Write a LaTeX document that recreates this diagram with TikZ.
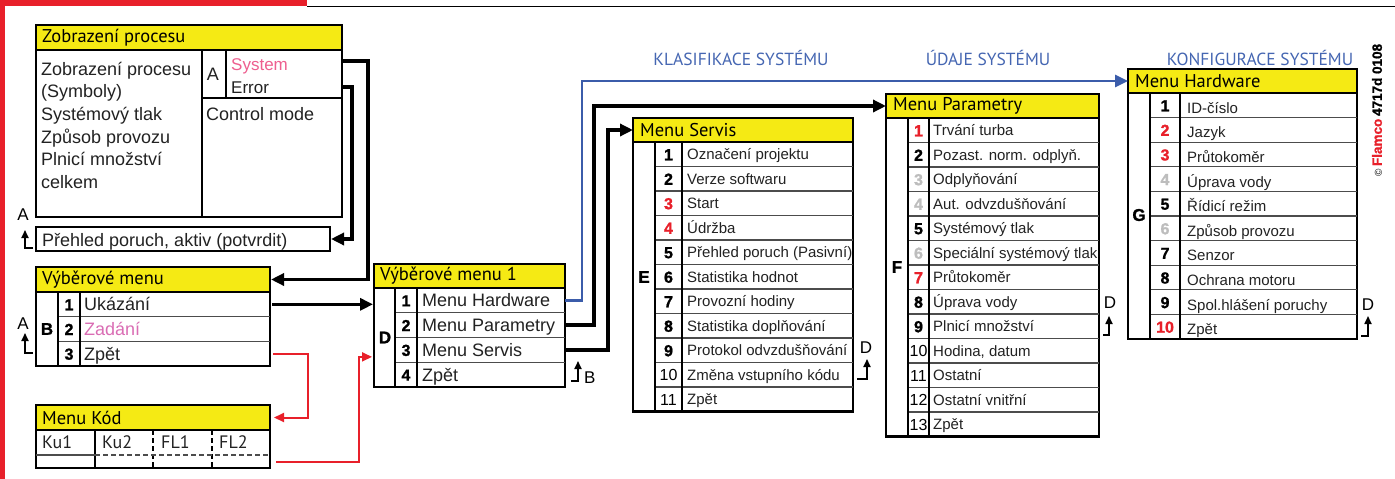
\documentclass[tikz,border=0pt]{standalone}
\usepackage{fontspec}
\setmainfont{Liberation Sans}
\newfontfamily\hdrfont{PT Sans}
\newfontfamily\heavyfont{Liberation Sans Bold}[FakeBold=1.2]
\usetikzlibrary{arrows.meta}
\definecolor{hy}{HTML}{F5EA14}
\definecolor{fred}{HTML}{E8202A}
\definecolor{fpink}{HTML}{EE5F8F}
\definecolor{fmag}{HTML}{DA6DB4}
\definecolor{fblue}{HTML}{3B5CAA}
\definecolor{hblue}{HTML}{4566B2}
\definecolor{fgray}{HTML}{BDBDBD}
\definecolor{tx}{HTML}{222222}
\newcommand\numB[1]{{\heavyfont\fontsize{16}{16}\selectfont #1}}
\newcommand\numR[1]{{\heavyfont\fontsize{16}{16}\selectfont\color{fred}#1}}
\newcommand\numG[1]{{\heavyfont\fontsize{16}{16}\selectfont\color{fgray}#1}}
\newcommand\numN[1]{{\fontsize{16}{16}\selectfont #1}}
\tikzset{
 mbox/.style={draw=black, line width=2.2pt, inner sep=0pt, outer sep=0pt, anchor=north west},
 hdrbox/.style={mbox, fill=hy},
 rowcell/.style={inner sep=0pt, outer sep=0pt, anchor=north west},
 sepline/.style={line width=1.2pt, draw=black!70},
 vline/.style={line width=1.5pt, draw=black},
 hdrtxt/.style={anchor=west, inner sep=0pt, font=\hdrfont\fontsize{18.5}{18.5}\selectfont},
 itemtxt/.style={anchor=base west, inner sep=0pt, text=tx, font=\fontsize{15}{15}\selectfont},
 bigitem/.style={anchor=base west, inner sep=0pt, text=tx, font=\fontsize{18}{18}\selectfont},
 numtxt/.style={anchor=base, inner sep=0pt},
 lettertxt/.style={inner sep=0pt, font=\heavyfont\fontsize{17}{17}\selectfont},
 conn/.style={draw=black, line width=3.4pt, -{Triangle[length=13pt,width=12pt]}},
 rconn/.style={draw=fred, line width=2pt, -{Triangle[length=10pt,width=9pt]}},
 bconn/.style={draw=fblue, line width=2.8pt, -{Triangle[length=13pt,width=12pt]}},
 retarr/.style={draw=black, line width=1.7pt, -{Triangle[length=8pt,width=7pt]}},
 retlbl/.style={inner sep=0pt, anchor=base, font=\fontsize{17}{17}\selectfont},
 headtxt/.style={text=hblue, font=\hdrfont\fontsize{17.5}{17.5}\selectfont, anchor=base, inner sep=0pt},
}
\begin{document}
\begin{tikzpicture}[x=1pt,y=-1pt]
\useasboundingbox (0,0) rectangle (1395,479);
\fill[white] (0,0) rectangle (1395,479);
% frame
\fill[fred] (0,0) rectangle (307,6);
\fill[fred] (0,0) rectangle (5,479);
\draw[line width=1.8pt] (307,6.5) -- (1395,6.5);

% ---------- Zobrazeni procesu
\node[hdrbox, minimum width=306pt, minimum height=25pt] (zp-h) at (36,25) {};
\node[hdrtxt] at ([xshift=6pt]zp-h.west) {Zobrazení procesu};
\node[mbox, minimum width=306pt, minimum height=167pt] (zp-b) at (36,50) {};
\draw[vline] (202,50) -- (202,217);
\draw[vline] (226,50) -- (226,98);
\draw[vline] (202,98) -- (342,98);
\foreach \tx [count=\i from 0] in {Zobrazení procesu, (Symboly), Systémový tlak, Způsob provozu, Plnicí množství, celkem}
  \node[bigitem] at (41,{75+\i*22.67}) {\tx};
\node[bigitem, anchor=base] at (213,80) {A};
\node[bigitem, text=fpink, font=\fontsize{17}{17}\selectfont] at (231,70) {System};
\node[bigitem, font=\fontsize{17}{17}\selectfont] at (231,93) {Error};
\node[bigitem] at (206,120) {Control mode};
\coordinate (zp-sys) at (342,61);
\coordinate (zp-err) at (342,87);

% ---------- Prehled poruch
\node[mbox, line width=1.7pt, minimum width=294pt, minimum height=24pt] (ph) at (36,227) {};
\node[bigitem] at (42,246) {Přehled poruch, aktiv (potvrdit)};
\node[retlbl] (ra1) at (23,220) {A};
\draw[retarr] (33,248) -- (25,248) -- (25,230);

% ---------- Vyberove menu
\node[hdrbox, minimum width=234pt, minimum height=25pt] (vm-h) at (36,267) {};
\node[hdrtxt] at ([xshift=6pt]vm-h.west) {Výběrové menu};
\node[mbox, minimum width=234pt, minimum height=74pt] (vm-b) at (36,292) {};
\foreach \i/\nm/\tx in {1/1/Ukázání, 2/2/{\color{fmag}Zadání}, 3/3/Zpět}{
  \node[rowcell, minimum width=234pt, minimum height=24.67pt] (vm-\i) at (36,{292+(\i-1)*24.67}) {};
  \node[numtxt] at ([xshift=33pt,yshift=-6pt]vm-\i.west) {\numB{\nm}};
  \node[bigitem] at ([xshift=48pt,yshift=-6.5pt]vm-\i.west) {\tx};
}
\foreach \i in {1,2} \draw[sepline] (58,{292+\i*24.67}) -- (270,{292+\i*24.67});
\draw[vline] (58,292) -- (58,366);
\draw[vline] (80,292) -- (80,366);
\node[lettertxt] at (47,329) {B};
\node[retlbl] (ra2) at (23,329) {A};
\draw[retarr] (33,353) -- (25,353) -- (25,333);

% ---------- Menu Kod
\node[hdrbox, minimum width=234pt, minimum height=25pt] (mk-h) at (36,405) {};
\node[hdrtxt] at ([xshift=6pt]mk-h.west) {Menu Kód};
\node[mbox, minimum width=234pt, minimum height=38pt] (mk-b) at (36,430) {};
\node[rowcell, minimum width=234pt, minimum height=25pt] (mk-1) at (36,430) {};
\node[rowcell, minimum width=234pt, minimum height=13pt] (mk-2) at (36,455) {};
\draw[vline] (95,430) -- (95,468);
\draw[vline, dashed, dash pattern=on 5pt off 3pt] (153,430) -- (153,468);
\draw[vline, dashed, dash pattern=on 5pt off 3pt] (212,430) -- (212,468);
\draw[sepline] (36,455) -- (95,455);
\draw[sepline, dashed, dash pattern=on 5pt off 3pt] (95,455) -- (270,455);
\foreach \tx/\xx in {Ku1/42, Ku2/102, FL1/161, FL2/219}
  \node[bigitem, font=\hdrfont\fontsize{18}{18}\selectfont] at (\xx,448) {\tx};

% ---------- Vyberove menu 1
\node[hdrbox, minimum width=191pt, minimum height=24pt] (v1-h) at (374,264) {};
\node[hdrtxt] at ([xshift=6pt]v1-h.west) {Výběrové menu 1};
\node[mbox, minimum width=191pt, minimum height=99pt] (v1-b) at (374,288) {};
\foreach \i/\tx in {1/Menu Hardware, 2/Menu Parametry, 3/Menu Servis, 4/Zpět}{
  \node[rowcell, minimum width=191pt, minimum height=24.75pt] (v1-\i) at (374,{288+(\i-1)*24.75}) {};
  \node[numtxt] at ([xshift=32pt,yshift=-6pt]v1-\i.west) {\numB{\i}};
  \node[bigitem] at ([xshift=48pt,yshift=-6.5pt]v1-\i.west) {\tx};
}
\foreach \i in {1,2,3} \draw[sepline] (395,{288+\i*24.75}) -- (565,{288+\i*24.75});
\draw[vline] (395,288) -- (395,387);
\draw[vline] (417,288) -- (417,387);
\node[lettertxt] at (385,337.5) {D};
\node[retlbl, anchor=base west] (rb) at (584,383) {B};
\draw[retarr] (571,381) -- (578,381) -- (578,361);

% ---------- Menu Servis
\node[hdrbox, minimum width=220pt, minimum height=24pt] (sv-h) at (633,118) {};
\node[hdrtxt] at ([xshift=7pt]sv-h.west) {Menu Servis};
\node[mbox, minimum width=220pt, minimum height=269.5pt] (sv-b) at (633,142) {};
\foreach \i/\nm/\tx in {1/\numB{1}/Označení projektu, 2/\numB{2}/Verze softwaru, 3/\numR{3}/Start, 4/\numR{4}/Údržba, 5/\numB{5}/Přehled poruch (Pasivní), 6/\numB{6}/Statistika hodnot, 7/\numB{7}/Provozní hodiny, 8/\numB{8}/Statistika doplňování, 9/\numB{9}/Protokol odvzdušňování, 10/\numN{10}/Změna vstupního kódu, 11/\numN{11}/Zpět}{
  \node[rowcell, minimum width=220pt, minimum height=24.5pt] (sv-\i) at (633,{142+(\i-1)*24.5}) {};
  \node[numtxt] at ([xshift=35.5pt,yshift=-6pt]sv-\i.west) {\nm};
  \node[itemtxt] at ([xshift=54pt,yshift=-5.5pt]sv-\i.west) {\tx};
}
\foreach \i in {1,...,10} \draw[sepline] (655,{142+\i*24.5}) -- (853,{142+\i*24.5});
\draw[vline] (655,142) -- (655,411.5);
\draw[vline] (682,142) -- (682,411.5);
\node[lettertxt] at (644,277) {E};
\node[retlbl] (rd1) at (866,353) {D};
\draw[retarr] (857,379) -- (867,379) -- (867,359);

% ---------- Menu Parametry
\node[hdrbox, minimum width=213pt, minimum height=24pt] (pa-h) at (886,94) {};
\node[hdrtxt] at ([xshift=7pt]pa-h.west) {Menu Parametry};
\node[mbox, minimum width=213pt, minimum height=318.5pt] (pa-b) at (886,118) {};
\foreach \i/\nm/\tx in {1/\numR{1}/Trvání turba, 2/\numB{2}/Pozast. norm. odplyň., 3/\numG{3}/Odplyňování, 4/\numG{4}/Aut. odvzdušňování, 5/\numB{5}/Systémový tlak, 6/\numG{6}/Speciální systémový tlak, 7/\numR{7}/Průtokoměr, 8/\numB{8}/Úprava vody, 9/\numB{9}/Plnicí množství, 10/\numN{10}/{Hodina, datum}, 11/\numN{11}/Ostatní, 12/\numN{12}/Ostatní vnitřní, 13/\numN{13}/Zpět}{
  \node[rowcell, minimum width=213pt, minimum height=24.5pt] (pa-\i) at (886,{118+(\i-1)*24.5}) {};
  \node[numtxt] at ([xshift=32.5pt,yshift=-6pt]pa-\i.west) {\nm};
  \node[itemtxt] at ([xshift=47pt,yshift=-5.5pt]pa-\i.west) {\tx};
}
\foreach \i in {1,...,12} \draw[sepline] (908,{118+\i*24.5}) -- (1099,{118+\i*24.5});
\draw[vline] (908,118) -- (908,436.5);
\draw[vline] (929,118) -- (929,436.5);
\node[lettertxt] at (897,267) {F};
\node[retlbl] (rd2) at (1110,308) {D};
\draw[retarr] (1103,335) -- (1109,335) -- (1109,316);

% ---------- Menu Hardware
\node[hdrbox, minimum width=229pt, minimum height=24pt] (hw-h) at (1128,69) {};
\node[hdrtxt] at ([xshift=7pt]hw-h.west) {Menu Hardware};
\node[mbox, minimum width=229pt, minimum height=246pt] (hw-b) at (1128,93) {};
\foreach \i/\nm/\tx in {1/\numB{1}/ID-číslo, 2/\numR{2}/Jazyk, 3/\numR{3}/Průtokoměr, 4/\numG{4}/Úprava vody, 5/\numB{5}/Řídicí režim, 6/\numG{6}/Způsob provozu, 7/\numB{7}/Senzor, 8/\numB{8}/Ochrana motoru, 9/\numB{9}/Spol.hlášení poruchy, 10/\numR{10}/Zpět}{
  \node[rowcell, minimum width=229pt, minimum height=24.6pt] (hw-\i) at (1128,{93+(\i-1)*24.6}) {};
  \node[numtxt] at ([xshift=37pt,yshift=-6pt]hw-\i.west) {\nm};
  \node[itemtxt] at ([xshift=59pt,yshift=-8pt]hw-\i.west) {\tx};
}
\foreach \i in {1,...,9} \draw[sepline] (1150,{93+\i*24.6}) -- (1357,{93+\i*24.6});
\draw[vline] (1150,93) -- (1150,339);
\draw[vline] (1180,93) -- (1180,339);
\node[lettertxt] at (1139,215) {G};
\node[retlbl] (rd3) at (1368,310) {D};
\draw[retarr] (1361,336) -- (1368,336) -- (1368,316);

% ---------- headings
\node[headtxt] (h1) at (741,65) {KLASIFIKACE SYSTÉMU};
\node[headtxt] (h2) at (988,65) {ÚDAJE SYSTÉMU};
\node[headtxt] (h3) at (1260,65) {KONFIGURACE SYSTÉMU};

% ---------- copyright
\node[rotate=90, inner sep=0pt] (cr) at (1377,110) {{\fontsize{10}{10}\selectfont ©}\ {\heavyfont\fontsize{13.5}{13.5}\selectfont\color{fred}Flamco}\ {\heavyfont\fontsize{13.5}{13.5}\selectfont 4717d 0108}};

% ---------- connectors
\draw[conn] (zp-sys) -- ++(26,0) |- ([xshift=1pt]vm-h.east);
\draw[conn] (zp-err) -- ++(10,0) |- ([xshift=1pt]ph.east);
\draw[conn, shorten >=1pt] ([xshift=2pt]vm-1.east) -- (vm-1.east -| v1-b.west);
\draw[bconn] (v1-1.east) -- ++(17,0) |- (hw-h.west);
\draw[conn] (v1-2.east) -- ++(29,0) |- (pa-h.west);
\draw[conn] (v1-3.east) -- ++(43,0) |- (sv-h.west);
\draw[rconn] ([xshift=3pt]vm-3.east) -- ++(35,0) |- ([xshift=4pt]mk-h.east);
\draw[rconn] ([xshift=6pt]mk-2.east) -- ++(83,0) |- ([xshift=-2pt,yshift=-7pt]v1-3.west);
\end{tikzpicture}
\end{document}
